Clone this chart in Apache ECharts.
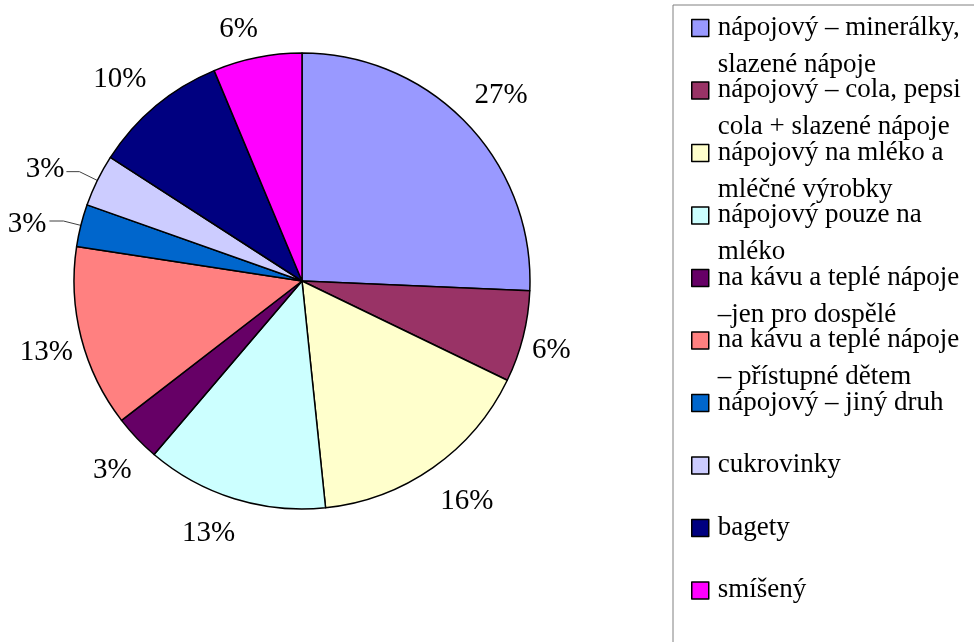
<!DOCTYPE html>
<html>
<head>
<meta charset="utf-8">
<script src="https://cdn.jsdelivr.net/npm/echarts@6/dist/echarts.min.js"></script>
<style>
html, body { margin: 0; padding: 0; background: #fff; }
#chart { width: 974px; height: 642px; }
</style>
</head>
<body>
<div id="chart"></div>
<script>
// categories (legend order = clockwise order from 12 o'clock)
var categories = [
    'nápojový – minerálky, slazené nápoje',
    'nápojový – cola, pepsi cola + slazené nápoje',
    'nápojový na mléko a mléčné výrobky',
    'nápojový pouze na mléko',
    'na kávu a teplé nápoje –jen pro dospělé',
    'na kávu a teplé nápoje – přístupné dětem',
    'nápojový – jiný druh',
    'cukrovinky',
    'bagety',
    'smíšený'
];
// legend text as it wraps in the picture
var legendLine1 = [
    'nápojový – minerálky,',
    'nápojový – cola, pepsi',
    'nápojový na mléko a',
    'nápojový pouze na',
    'na kávu a teplé nápoje',
    'na kávu a teplé nápoje',
    'nápojový – jiný druh',
    'cukrovinky',
    'bagety',
    'smíšený'
];
var legendLine2 = [
    'slazené nápoje',
    'cola + slazené nápoje',
    'mléčné výrobky',
    'mléko',
    '–jen pro dospělé',
    '– přístupné dětem',
    '',
    '',
    '',
    ''
];
// slice shares
var shares = [25.7, 6.5, 16.2, 12.9, 3.3, 12.9, 3.0, 3.7, 9.6, 6.3];
// data labels as printed
var percentLabels = ['27%', '6%', '16%', '13%', '3%', '13%', '3%', '3%', '10%', '6%'];

var colors = ['#9999ff', '#993366', '#ffffcc', '#ccffff', '#660066',
              '#ff8080', '#0066cc', '#ccccff', '#000080', '#ff00ff'];
// label distance outside the rim, small nudges, and which labels have leader lines
var labelLen = [45, 30, 45, 40, 38, 37, 18, 20, 45, 34];
var labelLen2 = [0, 0, 0, 0, 0, 0, 14, 13, 0, 0];
var labelDx = [2, -1, 8, -14, 3, 1, 0, 1, -7, -12];
var labelDy = [3, 6, -3, -4, 6, 5, 3, -2, 8, 5];
var hasLeader = [false, false, false, false, false, false, true, true, false, false];

var serif = 'Liberation Serif';

var pieData = [];
for (var i = 0; i < categories.length; i++) {
    pieData.push({
        name: categories[i],
        value: shares[i],
        itemStyle: { color: colors[i] },
        label: { distanceToLabelLine: hasLeader[i] ? 3 : 0 },
        labelLine: { show: hasLeader[i], length: labelLen[i], length2: labelLen2[i] }
    });
}

var chart = echarts.init(document.getElementById('chart'));

var option = {
    backgroundColor: '#ffffff',
    animation: false,
    legend: {
        orient: 'vertical',
        left: 673,
        top: 5,
        height: 900,
        padding: [9, 30, 60, 18],
        itemWidth: 17,
        itemHeight: 17,
        itemGap: -1.5,
        icon: 'rect',
        selectedMode: false,
        borderColor: '#808080',
        borderWidth: 1,
        itemStyle: { borderColor: '#000', borderWidth: 1.5 },
        data: categories,
        formatter: function (name) {
            var k = categories.indexOf(name);
            var second = legendLine2[k] ? legendLine2[k] : '\u00a0';
            return '{a|' + legendLine1[k] + '}\n{b|' + second + '}';
        },
        textStyle: {
            color: '#000',
            fontFamily: serif,
            fontSize: 27,
            rich: {
                a: { fontFamily: serif, fontSize: 27, color: '#000', lineHeight: 28, padding: [0, 0, 0, 4] },
                b: { fontFamily: serif, fontSize: 27, color: '#000', lineHeight: 1, verticalAlign: 'top', padding: [9.5, 0, 0, 4] }
            }
        }
    },
    series: [{
        type: 'pie',
        center: [302, 281],
        radius: 228,
        startAngle: 90,
        clockwise: true,
        avoidLabelOverlap: false,
        emphasis: { disabled: true },
        itemStyle: { borderColor: '#000', borderWidth: 1.5 },
        label: {
            show: true,
            position: 'outside',
            fontFamily: serif,
            fontSize: 29,
            color: '#000',
            formatter: function (p) {
                return percentLabels[p.dataIndex];
            }
        },
        labelLine: {
            show: false,
            smooth: false,
            lineStyle: { color: '#404040', width: 1 }
        },
        labelLayout: function (p) {
            var k = p.dataIndex;
            if (!hasLeader[k]) {
                return { align: 'center', verticalAlign: 'middle', dx: labelDx[k], dy: labelDy[k] };
            }
            return { dx: labelDx[k], dy: labelDy[k] };
        },
        data: pieData
    }]
};

chart.setOption(option);
</script>
</body>
</html>
